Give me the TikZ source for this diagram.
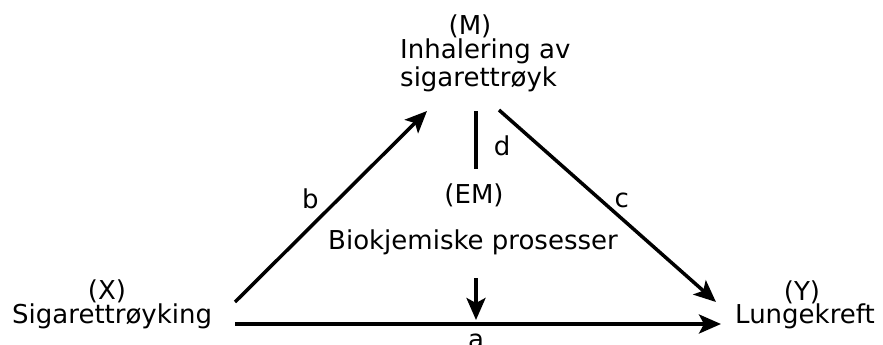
\documentclass[tikz,border=0pt]{standalone}
\usepackage{fontspec}
\setmainfont{DejaVu Sans}
\usetikzlibrary{arrows.meta}
\tikzset{
  lbl/.style={inner sep=0pt, font=\fontsize{26}{27}\selectfont},
  arr/.style={line width=3.5pt, -{Stealth[length=22pt, width=19pt, inset=5pt]}},
  ln/.style={line width=3.5pt}
}
\begin{document}
\begin{tikzpicture}[x=1pt, y=-1pt]
\useasboundingbox (0,0) rectangle (883,345);
\node[lbl, anchor=base] (mtag) at (470,35){(M)};
\node[lbl, anchor=base west] (m1) at (400,59){Inhalering av};
\node[lbl, anchor=base west] (m2) at (400,86){sigarettrøyk};
\node[lbl, anchor=base] (xtag) at (107,299){(X)};
\node[lbl, anchor=base west] (x) at (12,323){Sigarettrøyking};
\node[lbl, anchor=base] (ytag) at (802,300){(Y)};
\node[lbl, anchor=base west] (y) at (735,323){Lungekreft};
\node[lbl, anchor=base] (emtag) at (474,203){(EM)};
\node[lbl, anchor=base west] (em) at (328,249){Biokjemiske prosesser};
%
\coordinate (xa) at (235,324);
\coordinate (xb) at (235,302);
\coordinate (mb) at (427,111);
\coordinate (mc) at (499,110);
\coordinate (md) at (476,111);
\coordinate (emd) at (476,169);
\coordinate (ema) at (476,278);
\coordinate (ya) at (721,324);
\coordinate (yc) at (716,302);
\coordinate (aa) at (476,320);
%
\draw[arr](xa)--node[lbl, pos=0.496, anchor=base, yshift=-24pt]{a}(ya);
\draw[arr](xb)--node[lbl, pos=0.492, anchor=base, xshift=-19pt]{b}(mb);
\draw[arr](mc)--node[lbl, pos=0.51, anchor=base, xshift=12pt]{c}(yc);
\draw[ln](md)--node[lbl, pos=0.76, anchor=base, xshift=26pt]{d}(emd);
\draw[arr](ema)--(aa);

\end{tikzpicture}
\end{document}
